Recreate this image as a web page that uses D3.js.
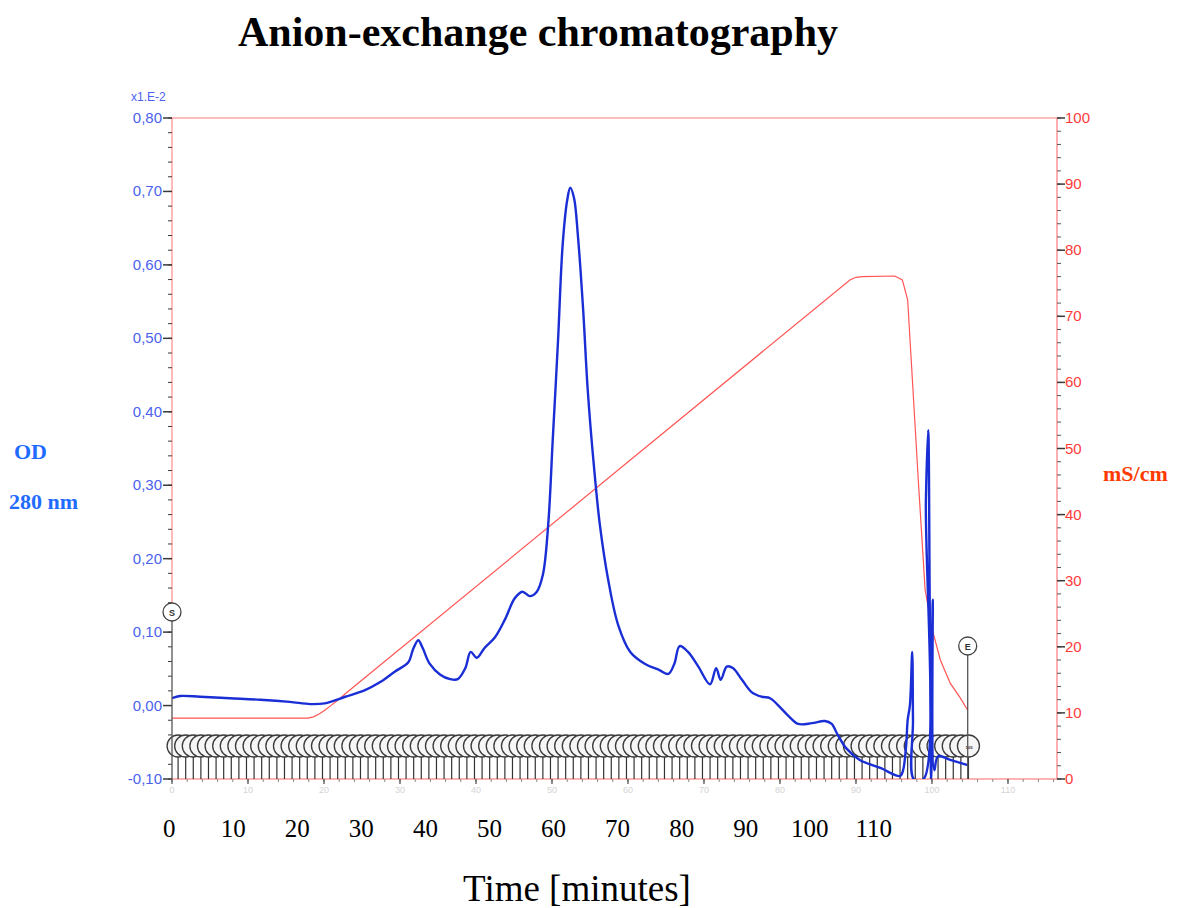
<!DOCTYPE html>
<html><head><meta charset="utf-8">
<script src="https://cdn.jsdelivr.net/npm/d3@7/dist/d3.min.js"></script>
<style>body{margin:0;background:#fff}svg{display:block}</style>
</head><body>
<svg id="c" width="1186" height="908"></svg>
<script>
// ---- data (instrument time scale, minutes) ----
const odTime = [0,1.05,3.7,7.6,11.6,15.5,18.2,20.1,22.8,25.4,27.4,29.3,31.1,31.7,32.4,33.0,33.9,35.3,36.6,37.6,38.6,39.3,40.1,41.1,42.5,43.8,45.1,46.1,47.1,48.0,48.8,49.5,50.1,50.8,51.4,52.0,52.4,52.9,53.4,54.1,54.7,55.5,56.3,57.4,58.7,60.3,62.2,64.2,65.3,66.1,66.8,67.9,69.2,70.8,71.6,72.2,73.0,73.8,75.0,76.3,77.6,78.7,79.7,81.1,82.4,84.2,85.9,86.8,87.6,88.7,90.5,93.2,95.8,96.2,96.6,96.8,97.1,97.4,97.5,97.6,98.9,99.2,99.5,99.7,99.9,100.1,100.3,100.8,102.4,104.7];
const odValue = [0.010,0.013,0.012,0.010,0.008,0.005,0.002,0.003,0.012,0.021,0.032,0.046,0.059,0.076,0.089,0.078,0.057,0.042,0.036,0.036,0.051,0.073,0.065,0.078,0.093,0.117,0.146,0.155,0.149,0.155,0.178,0.246,0.362,0.498,0.627,0.688,0.705,0.691,0.641,0.539,0.430,0.328,0.246,0.171,0.110,0.073,0.057,0.048,0.043,0.057,0.081,0.073,0.054,0.029,0.051,0.035,0.053,0.051,0.035,0.018,0.012,0.010,0.001,-0.014,-0.025,-0.024,-0.021,-0.025,-0.040,-0.058,-0.074,-0.085,-0.096,-0.088,-0.054,-0.020,0.001,0.073,-0.020,-0.100,-0.100,0.280,0.375,0.144,-0.100,0.144,-0.088,-0.069,-0.074,-0.081];
const condTime = [0,17.9,18.6,19.3,20.1,20.9,21.8,22.8,89.2,90.0,90.8,95.1,96.1,96.8,97.5,98.2,99.1,100.0,101.1,102.4,103.7,104.7];
const condValue = [9.2,9.2,9.4,9.8,10.4,11.1,11.9,12.9,75.5,75.9,76.0,76.1,75.5,72.5,58.9,45.2,28.6,22.8,18.0,14.5,12.3,10.4];
const odTicks = [-0.10,0.00,0.10,0.20,0.30,0.40,0.50,0.60,0.70,0.80];
const condTicks = [0,10,20,30,40,50,60,70,80,90,100];
const instrTicks = [0,10,20,30,40,50,60,70,80,90,100,110];
const timeLabels = [0,10,20,30,40,50,60,70,80,90,100,110];
const fractionNumbers = d3.range(1,106);
const startMark = 0, endMark = 104.7;

// ---- layout ----
const L=172, R=1057, T=118, B=779;
const svg = d3.select('#c');
const x = d3.scaleLinear().domain([0,116.45]).range([L,R]);
const yOD = d3.scaleLinear().domain([-0.10,0.80]).range([B,T]);
const yC = d3.scaleLinear().domain([0,100]).range([B,T]);
const xLab = d3.scaleLinear().domain([0,110]).range([169.2,873.8]);
const blueTxt = '#4a62ee', redTxt = '#ff3a3a', tickCol = '#3a3a3a';

// title & labels
svg.append('text').attr('x',538).attr('y',46).attr('text-anchor','middle')
  .attr('font-family','Liberation Serif, Times New Roman, serif').attr('font-weight','bold')
  .attr('font-size',42).text('Anion-exchange chromatography');
svg.append('text').attr('x',14).attr('y',459).attr('font-family','Liberation Serif, serif')
  .attr('font-weight','bold').attr('font-size',22).attr('fill','#1f6bff').text('OD');
svg.append('text').attr('x',9).attr('y',509).attr('font-family','Liberation Serif, serif')
  .attr('font-weight','bold').attr('font-size',22).attr('fill','#1f6bff').text('280 nm');
svg.append('text').attr('x',1103).attr('y',481).attr('font-family','Liberation Serif, serif')
  .attr('font-weight','bold').attr('font-size',22).attr('fill','#ff3a00').text('mS/cm');
svg.append('text').attr('x',577).attr('y',901).attr('text-anchor','middle')
  .attr('font-family','Liberation Serif, serif').attr('font-size',37).text('Time [minutes]');
svg.append('text').attr('x',131).attr('y',101).attr('font-family','Liberation Sans, Arial, sans-serif')
  .attr('font-size',12).attr('fill',blueTxt).text('x1.E-2');

// frame
svg.append('line').attr('x1',L).attr('x2',R).attr('y1',T).attr('y2',T).attr('stroke','#ff7a7a').attr('stroke-width',1.2);
svg.append('line').attr('x1',L).attr('x2',R).attr('y1',B).attr('y2',B).attr('stroke','#ff6a6a').attr('stroke-width',1.2);
svg.append('line').attr('x1',L).attr('x2',L).attr('y1',T).attr('y2',603).attr('stroke','#ff8a8a').attr('stroke-width',1.2);
svg.append('line').attr('x1',R).attr('x2',R).attr('y1',T).attr('y2',B).attr('stroke','#ff7a7a').attr('stroke-width',1.2);

// left axis
const gL = svg.append('g');
gL.selectAll('line.mn').data(d3.range(-0.10,0.8001,0.02)).join('line')
  .attr('x1',L-4).attr('x2',L).attr('y1',d=>yOD(d)).attr('y2',d=>yOD(d)).attr('stroke',tickCol);
gL.selectAll('line.mj').data(odTicks).join('line')
  .attr('x1',L-9).attr('x2',L).attr('y1',d=>yOD(d)).attr('y2',d=>yOD(d)).attr('stroke',tickCol).attr('stroke-width',1.5);
gL.selectAll('text').data(odTicks).join('text')
  .attr('x',L-10).attr('y',d=>yOD(d)+5).attr('text-anchor','end')
  .attr('font-family','Liberation Sans, Arial, sans-serif').attr('font-size',15).attr('fill',blueTxt)
  .text(d=>d3.format('.2f')(d).replace('.',',').replace('−','-'));

// right axis
const gR = svg.append('g');
gR.selectAll('line.mn').data(d3.range(0,100.1,2)).join('line')
  .attr('x1',R).attr('x2',R+4).attr('y1',d=>yC(d)).attr('y2',d=>yC(d)).attr('stroke','#555');
gR.selectAll('line.mj').data(condTicks).join('line')
  .attr('x1',R).attr('x2',R+8).attr('y1',d=>yC(d)).attr('y2',d=>yC(d)).attr('stroke',tickCol).attr('stroke-width',1.5);
gR.selectAll('text').data(condTicks).join('text')
  .attr('x',R+8).attr('y',d=>yC(d)+5)
  .attr('font-family','Liberation Sans, Arial, sans-serif').attr('font-size',15).attr('fill',redTxt)
  .text(d=>d);

// bottom instrument axis (faint)
const gB = svg.append('g');
gB.selectAll('line.mn').data(d3.range(0,116.1,2)).join('line')
  .attr('x1',d=>x(d)).attr('x2',d=>x(d)).attr('y1',B).attr('y2',B+3).attr('stroke','#888');
gB.selectAll('line.mj').data(instrTicks).join('line')
  .attr('x1',d=>x(d)).attr('x2',d=>x(d)).attr('y1',B).attr('y2',B+5).attr('stroke','#555').attr('stroke-width',1.3);
gB.selectAll('text').data(instrTicks).join('text')
  .attr('x',d=>x(d)).attr('y',B+14).attr('text-anchor','middle')
  .attr('font-family','Liberation Sans, Arial, sans-serif').attr('font-size',9).attr('fill','#d4d4d4')
  .text(d=>d);
// black time labels
svg.append('g').selectAll('text').data(timeLabels).join('text')
  .attr('x',d=>xLab(d)).attr('y',837).attr('text-anchor','middle')
  .attr('font-family','Liberation Serif, serif').attr('font-size',25).attr('fill','#000').text(d=>d);

// clip
svg.append('clipPath').attr('id','pc').append('rect').attr('x',L).attr('y',T).attr('width',R-L).attr('height',B-T);

// conductivity line
svg.append('path').datum(condTime.map((t,i)=>[t,condValue[i]]))
  .attr('fill','none').attr('stroke','#ff5555').attr('stroke-width',1.2)
  .attr('d',d3.line().x(d=>x(d[0])).y(d=>yC(d[1])));

// fraction markers
const gF = svg.append('g');
const fx = n => x(n-0.2);
gF.selectAll('line').data(fractionNumbers).join('line')
  .attr('x1',fx).attr('x2',fx).attr('y1',752).attr('y2',B).attr('stroke','#333').attr('stroke-width',1.2);

// OD line
svg.append('path').datum(odTime.map((t,i)=>[t,odValue[i]]))
  .attr('clip-path','url(#pc)')
  .attr('fill','none').attr('stroke','#1a2ed6').attr('stroke-width',2.4).attr('stroke-linejoin','round')
  .attr('d',d3.line().x(d=>x(d[0])).y(d=>yOD(d[1])).curve(d3.curveCatmullRom.alpha(0.5)));

const cg = gF.selectAll('g.f').data(fractionNumbers).join('g').attr('transform',n=>`translate(${fx(n)},746)`);
cg.append('circle').attr('r',11).attr('fill','#f6f6f6').attr('stroke','#3a3a3a').attr('stroke-width',1.3);
cg.append('text').attr('x',-3).attr('y',2.5).attr('font-family','Liberation Sans, Arial, sans-serif')
  .attr('font-size',n=>n>=100?4.3:6.3).attr('font-weight','bold').attr('fill','#333')
  .text(n=>n);

// S and E markers
function marker(t, cy, label){
  const g = svg.append('g');
  g.append('line').attr('x1',x(t)).attr('x2',x(t)).attr('y1',cy+9).attr('y2',B).attr('stroke','#555').attr('stroke-width',1.3);
  g.append('circle').attr('cx',x(t)).attr('cy',cy).attr('r',9).attr('fill','#fff').attr('stroke','#444').attr('stroke-width',1.3);
  g.append('text').attr('x',x(t)).attr('y',cy+3.5).attr('text-anchor','middle')
    .attr('font-family','Liberation Sans, Arial, sans-serif').attr('font-size',9).attr('font-weight','bold').attr('fill','#333').text(label);
}
marker(startMark, 612, 'S');
marker(endMark, 646, 'E');
</script>
</body></html>
